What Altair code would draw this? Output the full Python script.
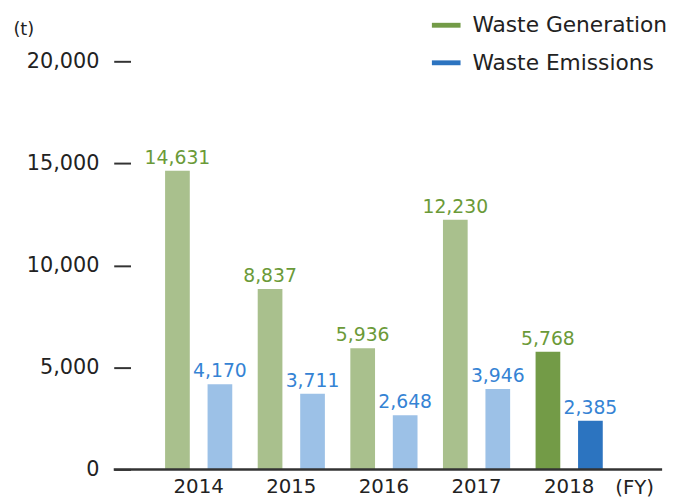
import altair as alt
import pandas as pd

years = ["2014", "2015", "2016", "2017", "2018"]
generation = [14631, 8837, 5936, 12230, 5768]
emissions = [4170, 3711, 2648, 3946, 2385]
series_names = ["Waste Generation", "Waste Emissions"]
y_ticks = [0, 5000, 10000, 15000, 20000]

rows = []
for i, yr in enumerate(years):
    for s, vals in zip(series_names, [generation, emissions]):
        key = s if yr == years[-1] else s + " (prior)"
        rows.append({"year": yr, "series": s, "value": vals[i], "key": key})
df = pd.DataFrame(rows)

FONT = "DejaVu Sans"
W, H = 538, 413

x_enc = alt.X("year:N", sort=years,
              scale=alt.Scale(paddingInner=0.2747, paddingOuter=0.507, align=0.368),
              axis=alt.Axis(title="(FY)", domain=False, ticks=False, labelAngle=0,
                            labelFont=FONT, labelFontSize=20, labelColor="#222",
                            labelPadding=7,
                            titleFont=FONT, titleFontSize=20, titleFontWeight="normal",
                            titleColor="#222", titleX=490, titleY=8,
                            titleAlign="left", titleBaseline="top"))
xoff = alt.XOffset("series:N", sort=series_names,
                   scale=alt.Scale(paddingInner=0.4186, paddingOuter=0))
y_enc = alt.Y("value:Q", scale=alt.Scale(domain=[0, 20000], nice=False),
              axis=alt.Axis(title="(t)", values=y_ticks, format=",d", grid=False,
                            domain=False, tickSize=17, tickWidth=2, tickColor="#333",
                            labelFont=FONT, labelFontSize=21, labelColor="#222",
                            labelPadding=15,
                            titleFont=FONT, titleFontSize=18, titleFontWeight="normal",
                            titleColor="#222", titleAngle=0, titleX=-119, titleY=-32,
                            titleAlign="left", titleBaseline="middle"))

color_domain = ["Waste Generation", "Waste Emissions",
                "Waste Generation (prior)", "Waste Emissions (prior)"]
color_range = ["#739b47", "#2c74c0", "#a9c08d", "#9cc1e7"]

bars = alt.Chart(df).mark_bar().encode(
    x=x_enc, xOffset=xoff, y=y_enc,
    color=alt.Color("key:N",
                    scale=alt.Scale(domain=color_domain, range=color_range),
                    legend=alt.Legend(title=None, values=series_names, orient="none",
                                      legendX=305, legendY=-51, direction="vertical",
                                      symbolType="M-1,-0.17L1,-0.17L1,0.17L-1,0.17Z",
                                      symbolSize=841, symbolStrokeWidth=0,
                                      labelFont=FONT, labelFontSize=22, labelColor="#222",
                                      labelOffset=12, labelLimit=0, rowPadding=12, padding=0)),
)

labels = alt.Chart(df).mark_text(font=FONT, fontSize=19, baseline="alphabetic", dy=-7).encode(
    x=alt.X("year:N", sort=years), xOffset=alt.XOffset("series:N", sort=series_names),
    y="value:Q",
    text=alt.Text("value:Q", format=",d"),
    color=alt.Color("series:N",
                    scale=alt.Scale(domain=series_names, range=["#6b9a38", "#3583d4"]),
                    legend=None),
)

baseline = alt.Chart(pd.DataFrame({"v": [0]})).mark_rule(color="#333", strokeWidth=2.5).encode(
    x=alt.value(-17), x2=alt.value(W), y=alt.Y("v:Q")
)

chart = alt.layer(bars, labels, baseline).resolve_scale(color="independent").properties(
    width=W, height=H,
    autosize=alt.AutoSizeParams(type="none"),
    padding={"left": 124, "top": 51, "right": 10, "bottom": 27},
).configure_view(stroke=None)

chart.save("out.html", embed_options={"renderer": "svg", "actions": False})
